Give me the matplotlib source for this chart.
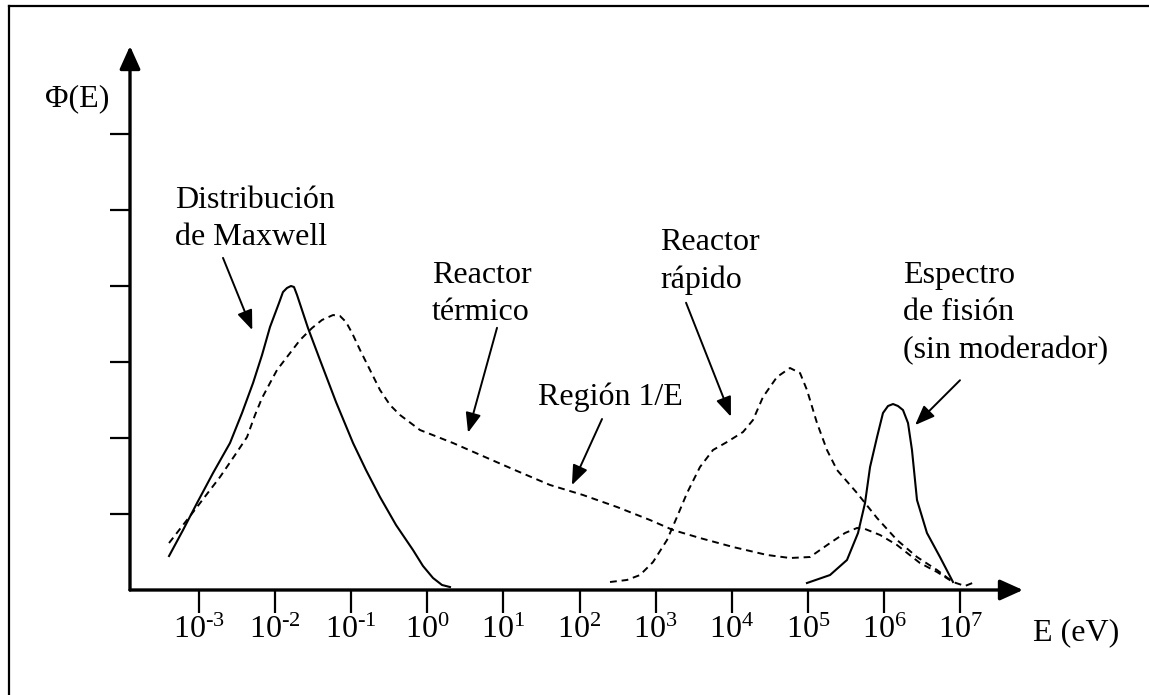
import matplotlib.pyplot as plt
from matplotlib.lines import Line2D
import numpy as np

plt.rcParams['font.family'] = ['Liberation Serif', 'DejaVu Serif']
plt.rcParams['mathtext.fontset'] = 'custom'
plt.rcParams['mathtext.rm'] = 'Liberation Serif'
plt.rcParams['mathtext.it'] = 'Liberation Serif:italic'

# log10(E / eV) and flux (arbitrary units) for each spectrum
maxwell_logE = [-3.394, -3.210, -3.026, -2.816, -2.593, -2.435, -2.290, -2.172, -2.067,
                -1.949, -1.897, -1.844, -1.792, -1.752, -1.712, -1.568, -1.410, -1.200,
                -0.976, -0.806, -0.622, -0.411, -0.188, -0.057, 0.075, 0.193, 0.298]
maxwell_phi = [0.447, 0.789, 1.145, 1.539, 1.934, 2.329, 2.724, 3.092, 3.461,
               3.776, 3.920, 3.974, 4.000, 3.987, 3.882, 3.447, 3.026, 2.474,
               1.934, 1.579, 1.224, 0.855, 0.526, 0.316, 0.158, 0.066, 0.039]

thermal_logE = [-3.394, -3.210, -3.026, -2.855, -2.724, -2.527, -2.369, -2.264, -2.172,
                -2.067, -1.975, -1.804, -1.673, -1.515, -1.384, -1.239, -1.147, -1.068,
                -0.989, -0.884, -0.753, -0.622, -0.490, -0.359, -0.096, 0.338, 0.758,
                1.179, 1.612, 2.046, 2.493, 2.926, 3.229, 3.583, 4.017, 4.464, 4.766,
                5.029, 5.292, 5.489, 5.647, 5.752, 5.949, 6.172, 6.474, 6.698, 6.908,
                7.066, 7.197]
thermal_phi = [0.618, 0.855, 1.092, 1.316, 1.487, 1.776, 2.013, 2.303, 2.526,
               2.724, 2.895, 3.118, 3.289, 3.447, 3.553, 3.618, 3.605, 3.526,
               3.382, 3.158, 2.895, 2.632, 2.434, 2.303, 2.105, 1.934, 1.750,
               1.566, 1.382, 1.250, 1.092, 0.921, 0.789, 0.684, 0.566, 0.461, 0.421,
               0.434, 0.618, 0.750, 0.816, 0.803, 0.724, 0.592, 0.355, 0.237, 0.105,
               0.053, 0.105]

fast_logE = [2.401, 2.624, 2.795, 2.966, 3.150, 3.281, 3.413, 3.583, 3.754, 3.938,
             4.149, 4.280, 4.411, 4.595, 4.766, 4.898, 4.989, 5.121, 5.252, 5.384,
             5.647, 5.910, 6.172, 6.435, 6.698, 6.908]
fast_phi = [0.105, 0.132, 0.197, 0.368, 0.658, 0.961, 1.276, 1.618, 1.842, 1.947,
            2.079, 2.237, 2.539, 2.803, 2.921, 2.855, 2.632, 2.197, 1.842, 1.579,
            1.276, 0.947, 0.658, 0.434, 0.263, 0.105]

fission_logE = [4.989, 5.292, 5.515, 5.660, 5.752, 5.818, 5.910, 5.988, 6.054, 6.120,
                6.185, 6.251, 6.317, 6.369, 6.435, 6.566, 6.737, 6.908]
fission_phi = [0.092, 0.197, 0.395, 0.750, 1.145, 1.618, 2.013, 2.329, 2.421, 2.447,
               2.421, 2.368, 2.197, 1.842, 1.184, 0.750, 0.434, 0.105]

tick_exp = list(range(-3, 8))
# plain hyphen (U+2010) in the exponent instead of a minus sign
tick_labels = ['$10^{%s}$' % str(k).replace('-', '\u2010') for k in tick_exp]

fs = 23
fig = plt.figure(figsize=(11.49, 6.95), dpi=100)
ax = fig.add_axes([130 / 1149, 105 / 695, 893 / 1149, 544 / 695])
ax.set_xscale('log')
ax.set_xlim(10 ** -3.907, 10 ** 7.828)
ax.set_ylim(0, 7.158)

ax.plot(10 ** np.array(maxwell_logE), maxwell_phi, color='k', lw=1.5)
ax.plot(10 ** np.array(fission_logE), fission_phi, color='k', lw=1.5)
ax.plot(10 ** np.array(thermal_logE), thermal_phi, color='k', lw=1.4, ls=(0, (3.5, 2.5)))
ax.plot(10 ** np.array(fast_logE), fast_phi, color='k', lw=1.4, ls=(0, (3.5, 2.5)))

# axes drawn as arrows
for s in ax.spines.values():
    s.set_visible(False)
axis_arrow = dict(arrowstyle='-|>,head_length=1.0,head_width=0.45', color='k', lw=2.4,
                  mutation_scale=14, shrinkA=0, shrinkB=0)
ax.annotate('', xy=(1, 0), xytext=(0, 0), xycoords='axes fraction', arrowprops=axis_arrow)
ax.annotate('', xy=(0, 1), xytext=(0, 0), xycoords='axes fraction', arrowprops=axis_arrow)

ax.set_xticks([10.0 ** k for k in tick_exp])
ax.set_xticklabels(tick_labels, fontsize=fs)
ax.xaxis.set_minor_locator(plt.NullLocator())
ax.set_yticks([1, 2, 3, 4, 5, 6])
ax.set_yticklabels([])
ax.tick_params(axis='x', direction='out', length=16.5, width=1.6, pad=2)
ax.tick_params(axis='y', direction='out', length=14.5, width=1.6)

ax.text(10 ** -5.02, 6.37, 'Φ(E)', fontsize=fs, va='baseline', ha='left')
ax.text(10 ** 7.96, -0.66, 'E (eV)', fontsize=fs, va='baseline', ha='left')

# labels (anchored at the baseline of their last line) and pointer arrows
labels = [
    ('Distribución\nde Maxwell', -3.315, 4.54, (-2.685, 4.37), (-2.30, 3.42)),
    ('Reactor\ntérmico', 0.062, 3.553, (0.916, 3.45), (0.535, 2.07)),
    ('Región 1/E', 1.455, 2.434, (2.296, 2.25), (1.90, 1.38)),
    ('Reactor\nrápido', 3.058, 3.974, (3.40, 3.78), (3.99, 2.28)),
    ('Espectro\nde fisión\n(sin moderador)', 6.25, 3.053, (7.0, 2.76), (6.41, 2.17)),
]
pointer = dict(arrowstyle='-|>,head_length=1.2,head_width=0.47', color='k', lw=1.4,
               mutation_scale=10, shrinkA=0, shrinkB=0)
for txt, lx, ly, tail, tip in labels:
    ax.text(10 ** lx, ly, txt, fontsize=fs, va='baseline', ha='left', linespacing=1.38)
    ax.annotate('', xy=(10 ** tip[0], tip[1]), xytext=(10 ** tail[0], tail[1]),
                arrowprops=pointer)

# frame around the figure
fig.add_artist(Line2D([9 / 1149, 9 / 1149], [0, 1 - 6 / 695], transform=fig.transFigure,
                      color='k', lw=1.6))
fig.add_artist(Line2D([9 / 1149, 1], [1 - 6 / 695, 1 - 6 / 695], transform=fig.transFigure,
                      color='k', lw=1.6))

fig.savefig('out.png', dpi=100)
